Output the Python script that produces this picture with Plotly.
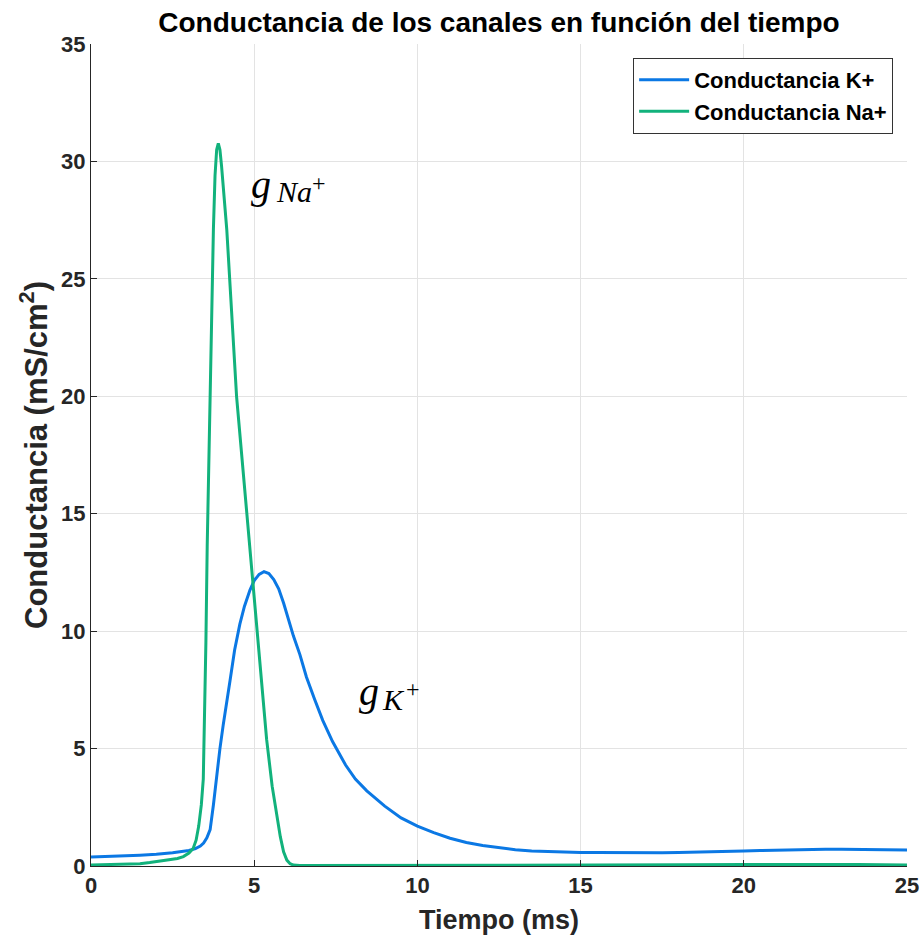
import plotly.graph_objects as go

# Potassium conductance (mS/cm^2) vs time (ms)
t_k = [0, 0.5, 1, 1.5, 2, 2.5, 3, 3.2, 3.35, 3.45, 3.55, 3.65, 3.75, 3.85, 3.95, 4.05, 4.15, 4.26,
       4.4, 4.56, 4.7, 4.87, 5.0, 5.15, 5.3, 5.45, 5.6, 5.75, 5.9, 6.05, 6.2, 6.4, 6.6, 6.85,
       7.1, 7.4, 7.8, 8.1, 8.45, 9.0, 9.5, 10, 10.5, 11, 11.5, 12, 12.5, 13, 13.5, 14, 14.5,
       15, 15.5, 16, 16.5, 17, 17.5, 18, 18.5, 19, 19.5, 20, 20.5, 21, 21.5, 22, 22.5, 23,
       23.5, 24, 24.5, 25]
g_k = [0.38, 0.4, 0.42, 0.46, 0.5, 0.56, 0.66, 0.74, 0.85, 0.98, 1.2, 1.55, 2.6, 3.95, 5.0, 6.0, 7.0, 7.9,
       9.2, 10.3, 11.05, 11.75, 12.15, 12.42, 12.53, 12.45, 12.2, 11.8, 11.2, 10.5, 9.8, 9.0, 8.05, 7.1,
       6.2, 5.3, 4.3, 3.7, 3.2, 2.55, 2.05, 1.7, 1.42, 1.18, 1.0, 0.87, 0.77, 0.69, 0.64, 0.61, 0.59,
       0.58, 0.57, 0.56, 0.55, 0.55, 0.56, 0.57, 0.58, 0.6, 0.62, 0.64, 0.66, 0.68, 0.69, 0.7, 0.71, 0.71,
       0.71, 0.7, 0.69, 0.68]

# Sodium conductance (mS/cm^2) vs time (ms)
t_na = [0, 0.5, 1, 1.5, 1.8, 2.1, 2.4, 2.65, 2.83, 3.0, 3.13, 3.22, 3.3, 3.38, 3.44, 3.47, 3.52, 3.56,
        3.6, 3.65, 3.7, 3.75, 3.8, 3.85, 3.9, 3.95, 4.0, 4.05, 4.1, 4.16, 4.46, 4.85, 5.1, 5.38,
        5.55, 5.7, 5.8, 5.9, 6.0, 6.1, 6.2, 6.4, 8, 10, 12, 15, 18, 20, 22, 23.5, 25]
g_na = [0.04, 0.05, 0.06, 0.1, 0.15, 0.2, 0.25, 0.32, 0.4, 0.55, 0.75, 1.1, 1.7, 2.6, 3.7, 5.4, 9.5, 13.6,
        16.8, 20.0, 23.6, 27.1, 29.4, 30.5, 30.77, 30.5, 29.8, 28.9, 28.0, 27.1, 20.0, 13.8, 9.6, 5.4,
        3.4, 2.0, 1.25, 0.6, 0.25, 0.1, 0.04, 0.02, 0.02, 0.02, 0.02, 0.03, 0.05, 0.06, 0.07, 0.06, 0.04]

x_ticks = [0, 5, 10, 15, 20, 25]
y_ticks = [0, 5, 10, 15, 20, 25, 30, 35]

sans = "Liberation Sans, Arial, Helvetica, sans-serif"
serif = "Liberation Serif, DejaVu Serif, serif"

fig = go.Figure()
fig.add_trace(go.Scatter(x=t_k, y=g_k, mode="lines", name="<b>Conductancia K+</b>",
                         legendgroup="k", line=dict(color="#0b78e4", width=3)))
fig.add_trace(go.Scatter(x=t_na, y=g_na, mode="lines", name="<b>Conductancia Na+</b>",
                         legendgroup="na", line=dict(color="#12b27c", width=3)))

# label pieces: (text, x, y, size, italic)
labels = [
    ("g", 5.21, 29.0, 40, True), ("Na", 5.61, 28.7, 30, True), ("+", 6.72, 29.1, 24, False),
    ("g", 8.52, 7.41, 40, True), ("K", 8.85, 7.07, 30, True), ("+", 9.6, 7.55, 24, False),
]
for txt, lx, ly, sz, it in labels:
    fig.add_annotation(x=lx, y=ly, xref="x", yref="y", showarrow=False,
                       text=f"<i>{txt}</i>" if it else txt,
                       xanchor="center" if txt == "g" else "left", yanchor="middle",
                       font=dict(family=serif, size=sz, color="black"))

axis_font = dict(family=sans, size=22, color="#262626")
fig.update_layout(
    width=924, height=944,
    margin=dict(l=91, r=17, t=44, b=78),
    paper_bgcolor="white", plot_bgcolor="white",
    title=dict(text="<b>Conductancia de los canales en función del tiempo</b>",
               x=(91 + 907) / 2 / 924, xanchor="center", y=1 - 22 / 944, yanchor="middle",
               font=dict(family=sans, size=28, color="black")),
    showlegend=True,
    legend=dict(x=0.983, y=0.983, xanchor="right", yanchor="top", traceorder="grouped",
                tracegroupgap=0,
                bgcolor="white", bordercolor="#333333", borderwidth=1,
                font=dict(family=sans, size=22, color="black"),
                itemwidth=50),
    xaxis=dict(range=[0, 25], tickvals=x_ticks, ticktext=[f"<b>{v}</b>" for v in x_ticks],
               automargin=False,
               showgrid=True, gridcolor="#e3e3e3", gridwidth=1, zeroline=False,
               showline=True, linecolor="#262626", linewidth=1,
               ticks="inside", ticklen=6, tickcolor="#262626",
               tickfont=axis_font,
               title=dict(text="<b>Tiempo (ms)</b>", standoff=12,
                          font=dict(family=sans, size=27, color="#262626"))),
    yaxis=dict(range=[0, 35], tickvals=y_ticks, ticktext=[f"<b>{v}</b>" for v in y_ticks],
               automargin=False,
               showgrid=True, gridcolor="#e3e3e3", gridwidth=1, zeroline=False,
               showline=True, linecolor="#262626", linewidth=1,
               ticks="inside", ticklen=6, tickcolor="#262626",
               tickfont=axis_font,
               title=dict(text="<b>Conductancia (mS/cm<sup>2</sup>)</b>", standoff=4,
                          font=dict(family=sans, size=31, color="#262626"))),
)

fig.write_html("out.html")
